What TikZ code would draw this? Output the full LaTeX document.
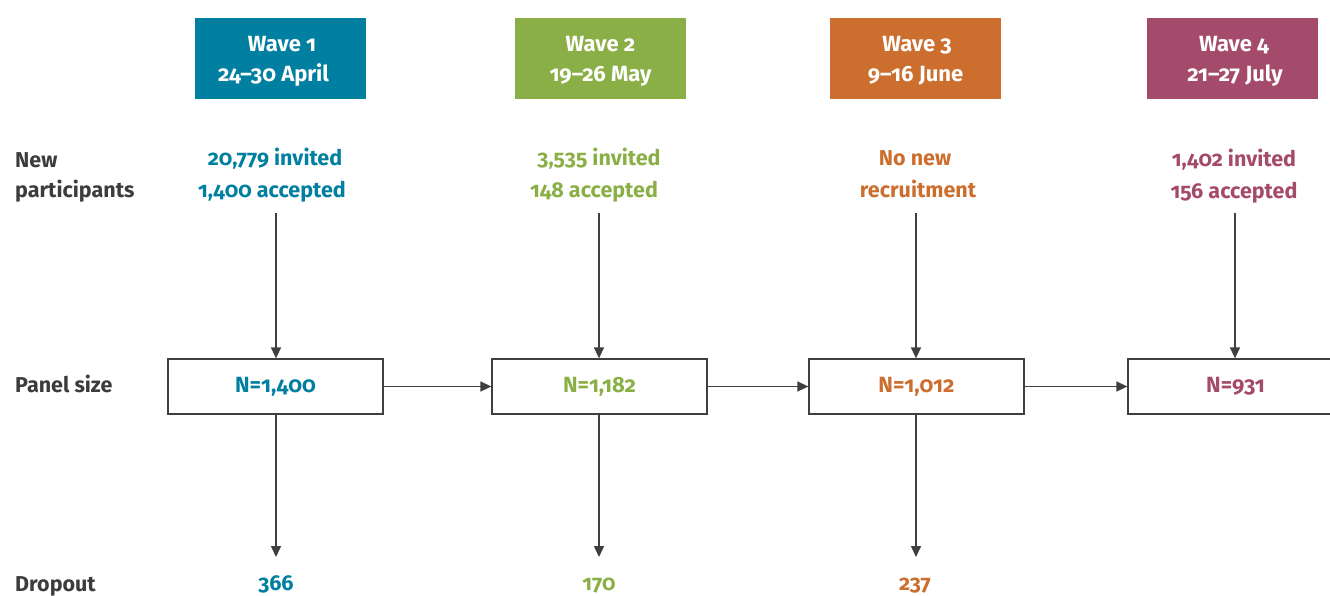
\documentclass[tikz,border=0pt]{standalone}
\usepackage{fontspec}
\setmainfont{Fira Sans}[Numbers=OldStyle]
\usetikzlibrary{arrows.meta}
\definecolor{cA}{HTML}{007FA0}
\definecolor{cB}{HTML}{8AAF46}
\definecolor{cC}{HTML}{CB6E2E}
\definecolor{cD}{HTML}{A44A6A}
\definecolor{lineC}{HTML}{3F3F3F}
\definecolor{labC}{HTML}{3C3C3C}
\begin{document}
\begin{tikzpicture}[x=1pt,y=-1pt,
  hdr/.style={minimum width=171pt,minimum height=81pt,inner sep=0pt,draw=none},
  htext/.style={anchor=base,text=white,font=\fontsize{22}{24}\selectfont\bfseries,inner sep=0pt},
  dtext/.style={anchor=base,font=\fontsize{21.5}{24}\selectfont\bfseries,inner sep=0pt},
  ltext/.style={anchor=base west,text=labC,font=\fontsize{21.5}{24}\selectfont\bfseries,inner sep=0pt},
  panel/.style={draw=lineC,line width=1.3pt,fill=white,minimum width=215pt,minimum height=55pt,inner sep=0pt,font=\fontsize{22}{24}\selectfont\bfseries},
  arr/.style={draw=lineC,line width=1.5pt,-{Triangle[length=11pt,width=10pt]}}
]
\useasboundingbox (0,0) rectangle (1330,595);
\clip (0,0) rectangle (1330,595);

% headers
\node[hdr,fill=cA] (h1) at (280.5,58.5) {};
\node[hdr,fill=cB] (h2) at (600.5,58.5) {};
\node[hdr,fill=cC] (h3) at (915.5,58.5) {};
\node[hdr,fill=cD] (h4) at (1232.5,58.5) {};
\node[htext] (h1a) at (282,51) {Wave 1};
\node[htext] (h1b) at (273.5,81) {24–30 April};
\node[htext] (h2a) at (600.5,51) {Wave 2};
\node[htext] (h2b) at (600.5,81) {19–26 May};
\node[htext] (h3a) at (917,51) {Wave 3};
\node[htext] (h3b) at (915.5,81) {9–16 June};
\node[htext] (h4a) at (1234,51) {Wave 4};
\node[htext] (h4b) at (1235,81) {21–27 July};

% row labels
\node[ltext] (lnew) at (15,167) {New};
\node[ltext] (lpart) at (15,197) {participants};
\node[ltext] (lpanel) at (15,392) {Panel size};
\node[ltext] (ldrop) at (15,591) {Dropout};

% new participants
\node[dtext,text=cA] (n1a) at (275,165) {20,779 invited};
\node[dtext,text=cA] (n1b) at (272,197) {1,400 accepted};
\node[dtext,text=cB] (n2a) at (599,165) {3,535 invited};
\node[dtext,text=cB] (n2b) at (594,197) {148 accepted};
\node[dtext,text=cC] (n3a) at (915,165) {No new};
\node[dtext,text=cC] (n3b) at (918,197) {recruitment};
\node[dtext,text=cD] (n4a) at (1234,166) {1,402 invited};
\node[dtext,text=cD] (n4b) at (1234,198) {156 accepted};

% panel boxes
\node[panel,text=cA] (p1) at (275.5,386.5) {N=1,400};
\node[panel,text=cB] (p2) at (599.5,386.5) {N=1,182};
\node[panel,text=cC] (p3) at (916.5,386.5) {N=1,012};
\node[panel,text=cD] (p4) at (1235.5,386.5) {N=931};

% top connectors
\coordinate (t1) at (276,213);
\coordinate (t2) at (599,213);
\coordinate (t3) at (916,213);
\coordinate (t4) at (1235,213);
\draw[arr] (t1) -- (t1 |- p1.north);
\draw[arr] (t2) -- (t2 |- p2.north);
\draw[arr] (t3) -- (t3 |- p3.north);
\draw[arr] (t4) -- (t4 |- p4.north);

% horizontal connectors
\draw[arr] (p1.east) -- (p2.west);
\draw[arr] (p2.east) -- (p3.west);
\draw[arr] (p3.east) -- (p4.west);

% dropout connectors
\coordinate (b1) at (276,557);
\coordinate (b2) at (599,557);
\coordinate (b3) at (916,557);
\draw[arr] (b1 |- p1.south) -- (b1);
\draw[arr] (b2 |- p2.south) -- (b2);
\draw[arr] (b3 |- p3.south) -- (b3);

% dropout values
\node[dtext,text=cA] (d1) at (276,590) {366};
\node[dtext,text=cB] (d2) at (599,590) {170};
\node[dtext,text=cC] (d3) at (915,590) {237};
\end{tikzpicture}
\end{document}
